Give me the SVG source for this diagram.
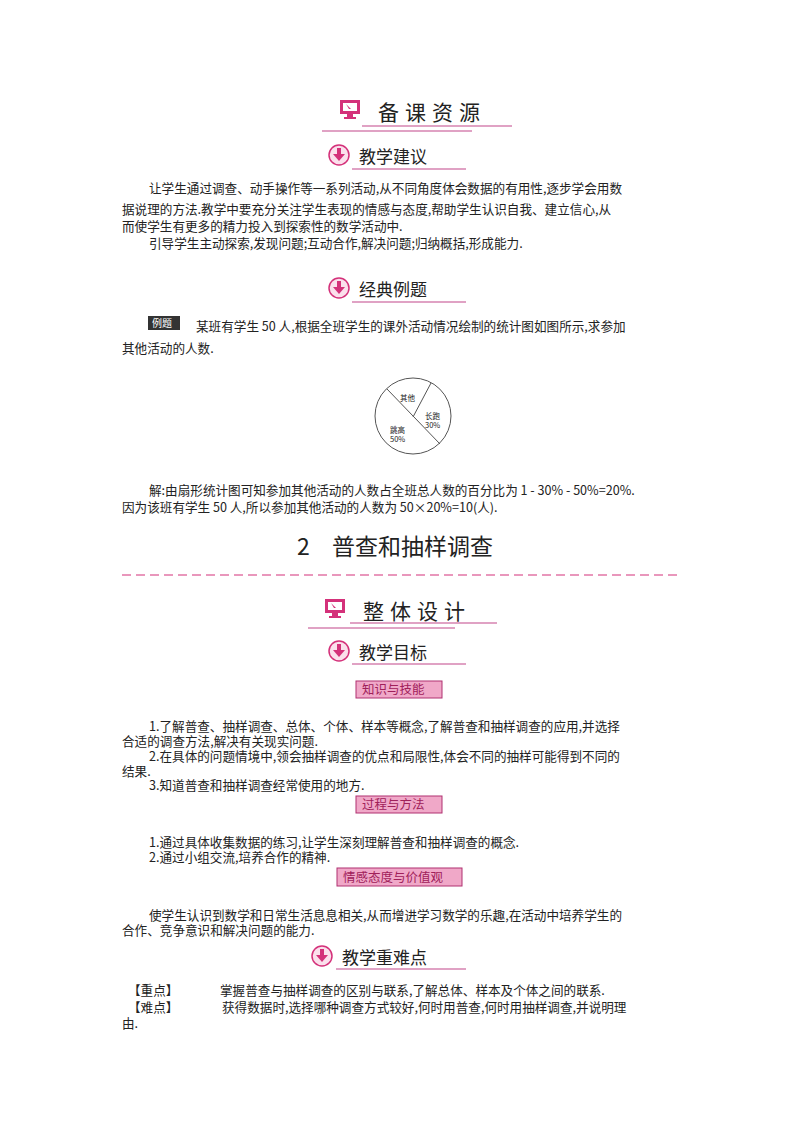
<svg xmlns="http://www.w3.org/2000/svg" width="800" height="1132" viewBox="0 0 800 1132">
<style>
text{font-family:"Noto Sans CJK SC","Liberation Sans",sans-serif;fill:#222}
.b{font-size:12.6px}
.h1{font-size:21px;letter-spacing:6px}
.h2{font-size:17px}
.pl{stroke:#c2478a;stroke-width:1.2;fill:none}
.tag{fill:#f0a8c8;stroke:#b03070;stroke-width:1}
.tt{font-size:12.5px;fill:#a0205a}
</style>
<defs>
<g id="mon"><rect x="0" y="0" width="20" height="14" fill="#d4317a"/><rect x="3" y="3" width="14" height="8" fill="#fff"/><path d="M6 4l5 5-2 0z" fill="#d4317a"/><rect x="7" y="14" width="6" height="3" fill="#d4317a"/><rect x="4" y="17" width="12" height="2" fill="#d4317a"/></g>
<g id="dl"><circle cx="10" cy="10" r="10" fill="#fbe0ec" stroke="#d4317a" stroke-width="1.5"/><rect x="8" y="3" width="4" height="7" fill="#d4317a"/><path d="M4 9h12l-6 7z" fill="#d4317a"/></g>
</defs>
<g id="h-beike"><use href="#mon" x="340" y="100"/><text x="378" y="120" class="h1">备课资源</text><line x1="362" y1="126" x2="512" y2="126" class="pl"/><line x1="322" y1="131" x2="472" y2="131" class="pl"/></g>
<g id="h-jxjy"><use href="#dl" x="329" y="145"/><text x="359" y="163" class="h2">教学建议</text><line x1="352" y1="169" x2="466" y2="169" class="pl"/></g>
<g id="p1">
<text x="149" y="193" class="b">让学生通过调查、动手操作等一系列活动,从不同角度体会数据的有用性,逐步学会用数</text>
<text x="122" y="214" class="b">据说理的方法.教学中要充分关注学生表现的情感与态度,帮助学生认识自我、建立信心,从</text>
<text x="122" y="231" class="b">而使学生有更多的精力投入到探索性的数学活动中.</text>
<text x="149" y="248" class="b">引导学生主动探索,发现问题;互动合作,解决问题;归纳概括,形成能力.</text>
</g>
<g id="h-jdlt"><use href="#dl" x="329" y="278"/><text x="359" y="296" class="h2">经典例题</text><line x1="352" y1="302" x2="466" y2="302" class="pl"/></g>
<g id="ex"><rect x="148" y="316" width="32" height="14" fill="#333"/><text x="152" y="327" font-size="10" style="fill:#fff">例题</text>
<text x="196" y="331" class="b">某班有学生 50 人,根据全班学生的课外活动情况绘制的统计图如图所示,求参加</text>
<text x="122" y="353" class="b">其他活动的人数.</text></g>
<g id="pie"><circle cx="413" cy="416" r="38" fill="#fff" stroke="#555" stroke-width="1"/>
<line x1="387" y1="389" x2="440" y2="444" stroke="#555"/><line x1="431" y1="383" x2="413" y2="417" stroke="#555"/>
<text x="400" y="401" font-size="7.5">其他</text><text x="425" y="419" font-size="7.5">长跑</text><text x="425" y="428" font-size="7.5">30%</text>
<text x="390" y="433" font-size="7.5">跳高</text><text x="390" y="442" font-size="7.5">50%</text></g>
<g id="sol"><text x="149" y="495" class="b">解:由扇形统计图可知参加其他活动的人数占全班总人数的百分比为 1 - 30% - 50%=20%.</text>
<text x="122" y="512" class="b">因为该班有学生 50 人,所以参加其他活动的人数为 50×20%=10(人).</text></g>
<g id="title"><text x="297" y="555" font-size="23">2</text><text x="332" y="555" font-size="23">普查和抽样调查</text>
<line x1="122" y1="575" x2="677" y2="575" stroke="#d4317a" stroke-width="1.2" stroke-dasharray="9,5"/></g>
<g id="h-ztsj"><use href="#mon" x="325" y="599"/><text x="363" y="619" class="h1">整体设计</text><line x1="350" y1="623" x2="497" y2="623" class="pl"/><line x1="308" y1="628" x2="455" y2="628" class="pl"/></g>
<g id="h-jxmb"><use href="#dl" x="329" y="641"/><text x="359" y="659" class="h2">教学目标</text><line x1="352" y1="664" x2="466" y2="664" class="pl"/></g>
<g id="t1"><rect x="356" y="681" width="86" height="17" class="tag"/><text x="362" y="694" class="tt">知识与技能</text></g>
<g id="p2">
<text x="149" y="731" class="b">1.了解普查、抽样调查、总体、个体、样本等概念,了解普查和抽样调查的应用,并选择</text>
<text x="122" y="746" class="b">合适的调查方法,解决有关现实问题.</text>
<text x="149" y="761" class="b">2.在具体的问题情境中,领会抽样调查的优点和局限性,体会不同的抽样可能得到不同的</text>
<text x="122" y="776" class="b">结果.</text>
<text x="149" y="790" class="b">3.知道普查和抽样调查经常使用的地方.</text>
</g>
<g id="t2"><rect x="356" y="796" width="86" height="17" class="tag"/><text x="362" y="809" class="tt">过程与方法</text></g>
<g id="p3"><text x="149" y="847" class="b">1.通过具体收集数据的练习,让学生深刻理解普查和抽样调查的概念.</text>
<text x="149" y="862" class="b">2.通过小组交流,培养合作的精神.</text></g>
<g id="t3"><rect x="337" y="868" width="125" height="18" class="tag"/><text x="343" y="882" class="tt">情感态度与价值观</text></g>
<g id="p4"><text x="149" y="920" class="b">使学生认识到数学和日常生活息息相关,从而增进学习数学的乐趣,在活动中培养学生的</text>
<text x="122" y="935" class="b">合作、竞争意识和解决问题的能力.</text></g>
<g id="h-zdn"><use href="#dl" x="312" y="946"/><text x="342" y="964" class="h2">教学重难点</text><line x1="336" y1="969" x2="466" y2="969" class="pl"/></g>
<g id="p5"><text x="128" y="995" class="b">【重点】</text><text x="220" y="995" class="b">掌握普查与抽样调查的区别与联系,了解总体、样本及个体之间的联系.</text>
<text x="128" y="1012" class="b">【难点】</text><text x="222" y="1012" class="b">获得数据时,选择哪种调查方式较好,何时用普查,何时用抽样调查,并说明理</text>
<text x="122" y="1028" class="b">由.</text></g>
</svg>
